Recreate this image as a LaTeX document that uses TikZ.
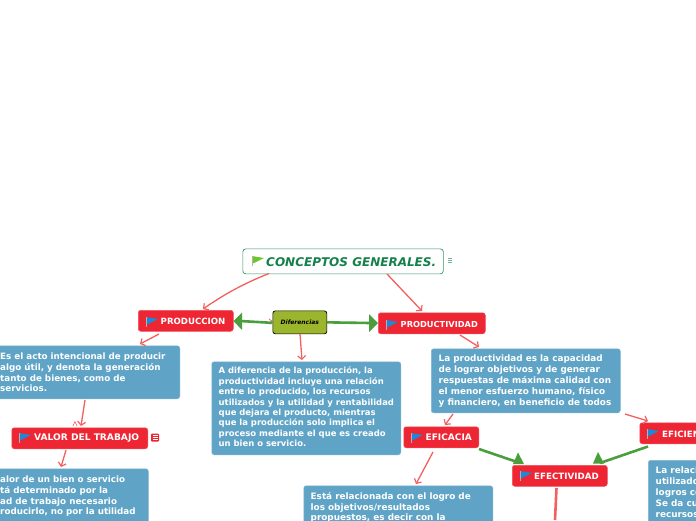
\documentclass[tikz,border=0pt]{standalone}
\usepackage{fontspec}
\setmainfont{DejaVu Sans}
\usetikzlibrary{arrows.meta}
\definecolor{redbox}{HTML}{EE2633}
\definecolor{bluebox}{HTML}{5FA4C6}
\definecolor{linkred}{HTML}{F4605F}
\definecolor{linkgreen}{HTML}{4B9E3C}
\definecolor{titlegreen}{HTML}{14804A}
\definecolor{olive}{HTML}{9BB52D}
\definecolor{flagblue}{HTML}{1E88D8}
\definecolor{flaggreen}{HTML}{6CC72C}
\tikzset{
 x=1pt,y=-1pt,
 topicbox/.style={fill=redbox,draw=redbox!80!white,line width=.5pt,rounded corners=2.5pt,inner sep=0pt,anchor=north west},
 topiclabel/.style={text=white,font=\bfseries\fontsize{#1}{10}\selectfont,inner sep=0pt,anchor=west},
 notebox/.style={fill=bluebox,draw=bluebox!80!white,line width=.5pt,rounded corners=2.5pt,anchor=north west,inner sep=0pt},
 notetext/.style={text=white,font=\bfseries\fontsize{8.85}{10.85}\selectfont,anchor=north west,inner sep=0pt,align=left},
 notesmall/.style={notetext,font=\bfseries\fontsize{8.75}{10.85}\selectfont},
 notetight/.style={notetext,font=\bfseries\fontsize{8.45}{10.35}\selectfont},
 rlink/.style={draw=linkred,line width=1.3pt,-{Straight Barb[length=3.5pt,width=8pt,line width=1.2pt]}},
 glink/.style={draw=linkgreen,line width=2.6pt},
 ghead/.style={fill=linkgreen,draw=none},
}
\newcommand{\flagat}[3]{\fill[#3] (#1,#2) -- (#1+12,#2+2) -- (#1+2,#2+7) -- (#1,#2+7) -- cycle;
 \draw[gray!60,line width=.5pt] (#1,#2) -- (#1,#2+10);}
\begin{document}
\begin{tikzpicture}
\useasboundingbox (0,0) rectangle (696,520);
\clip (0,0) rectangle (696,520);
\fill[white] (0,0) rectangle (696,520);
% boxes
\node[fill=white,draw=titlegreen!85!white,line width=.7pt,rounded corners=3pt,minimum width=200.5pt,minimum height=25pt,inner sep=0pt,anchor=north west] (title) at (242.5,248.5) {};
\node[text=titlegreen,font=\bfseries\itshape\fontsize{12}{13}\selectfont,inner sep=0pt,anchor=west] (titletext) at (266,262.5) {CONCEPTOS GENERALES.};
\node[fill=olive,draw=black,line width=.7pt,rounded corners=2.5pt,minimum width=54pt,minimum height=23pt,inner sep=0pt,anchor=north west,font=\bfseries\itshape\fontsize{6}{7}\selectfont,text=black] (dif) at (272.5,310.5) {Diferencias};
\node[topicbox,minimum width=95pt,minimum height=21pt] (prod) at (138,310) {};
\node[topicbox,minimum width=107pt,minimum height=21pt] (pvd) at (378,312.5) {};
\node[topicbox,minimum width=136pt,minimum height=21pt] (valor) at (11.5,427.5) {};
\node[topicbox,minimum width=75pt,minimum height=21pt] (efa) at (403.5,426.5) {};
\node[topicbox,minimum width=80pt,minimum height=21pt] (efi) at (639.5,422.5) {};
\node[topicbox,minimum width=95pt,minimum height=21pt] (efe) at (512,465) {};
\node[notebox,minimum width=199.5pt,minimum height=53pt] (n1) at (-20,345.5) {};
\node[notebox,minimum width=168pt,minimum height=80pt] (n2) at (-20,468.5) {};
\node[notebox,minimum width=189pt,minimum height=93pt] (n3) at (211.5,361.5) {};
\node[notebox,minimum width=189pt,minimum height=64pt] (n4) at (431,348.5) {};
\node[notebox,minimum width=189pt,minimum height=80pt] (n5) at (303.5,485.5) {};
\node[notebox,minimum width=100pt,minimum height=90pt] (n6) at (648,460) {};
% labels
\node[topiclabel=8.6] (l1) at (160.5,321) {PRODUCCION};
\node[topiclabel=8.25] (l2) at (400.5,324) {PRODUCTIVIDAD};
\node[topiclabel=9.1] (l3) at (34,438.5) {VALOR DEL TRABAJO};
\node[topiclabel=9] (l4) at (425.5,437.5) {EFICACIA};
\node[topiclabel=8.7] (l5) at (662,434) {EFICIEN};
\node[topiclabel=8.7] (l6) at (534,476) {EFECTIVIDAD};
% note texts
\node[notesmall] (t1) at (0,352.5) {Es el acto intencional de producir\\algo útil, y denota la generación\\tanto de bienes, como de\\servicios.};
\node[notesmall] (t2) at (0,475.5) {alor de un bien o servicio\\tá determinado por la\\ad de trabajo necesario\\roducirlo, no por la utilidad};
\node[notetight] (t3) at (218.5,367) {A diferencia de la producción, la\\productividad incluye una relación\\entre lo producido, los recursos\\utilizados y la utilidad y rentabilidad\\que dejara el producto, mientras\\que la producción solo implica el\\proceso mediante el que es creado\\un bien o servicio.};
\node[notetext] (t4) at (438.5,355) {La productividad es la capacidad\\de lograr objetivos y de generar\\respuestas de máxima calidad con\\el menor esfuerzo humano, físico\\y financiero, en beneficio de todos};
\node[notetext] (t5) at (310.5,492) {Está relacionada con el logro de\\los objetivos/resultados\\propuestos, es decir con la};
\node[notetext] (t6) at (655.5,467) {La relaci\\utilizado\\logros co\\Se da cu\\recursos};
% flags
\flagat{146}{317}{flagblue}
\flagat{386}{320}{flagblue}
\flagat{19}{433}{flagblue}
\flagat{411}{433}{flagblue}
\flagat{647}{429}{flagblue}
\flagat{520}{471}{flagblue}
\flagat{252}{256}{flaggreen}
% links
\draw[rlink] (269,273.5) .. controls (240,285) and (222,296) .. (203,309);
\draw[rlink] (387,274) -- (422,311);
\draw[rlink] (159,334) -- (140,344);
\draw[rlink] (85,400) -- (81,426);
\draw[rlink] (66,450) -- (61,467);
\draw[rlink] (300,334) -- (302,360);
\draw[rlink] (460,335) -- (479,347);
\draw[rlink] (453,414) -- (445,425);
\draw[rlink] (433,452) -- (416,484);
\draw[rlink] (625,414) -- (648,421);
\draw[linkred,line width=.6pt] (73,426) -- (75,421.5) -- (77,426);
\draw[linkred,line width=.8pt] (269,319) -- (272.5,321.5) -- (269,324);
% green links
\draw[glink] (dif.west) ++(0,.5) -- (240,321);
\fill[ghead] (233.5,321) -- (242,312.5) -- (242,330) -- cycle;
\draw[glink] (dif.east) -- (370,323);
\fill[ghead] (378,323) -- (369,314) -- (369,332) -- cycle;
\draw[glink] (479,449) -- (520,463);
\fill[ghead] (518,452.5) -- (513,464) -- (524,464) -- cycle;
\draw[glink] (648,446.5) -- (600,463);
\fill[ghead] (598,452) -- (593,463.5) -- (604,463.5) -- cycle;
\draw[linkred,line width=2.6pt] (556.5,488) -- (555,520);
% icons
\node[inner sep=0pt,minimum width=8pt,minimum height=8pt,fill=white] (ic1) at (450,260) {};
\draw[titlegreen!60!white,line width=.6pt] (448,258) -- (452,258) (448,260) -- (452,260) (448,262) -- (452,262);
\node[fill=redbox,rounded corners=1pt,inner sep=0pt,minimum width=8pt,minimum height=8pt] (ic2) at (155,437.5) {};
\draw[white,line width=.7pt] (152.5,435.5) -- (157.5,435.5) (152.5,437.5) -- (157.5,437.5) (152.5,439.5) -- (157.5,439.5);
\end{tikzpicture}
\end{document}
